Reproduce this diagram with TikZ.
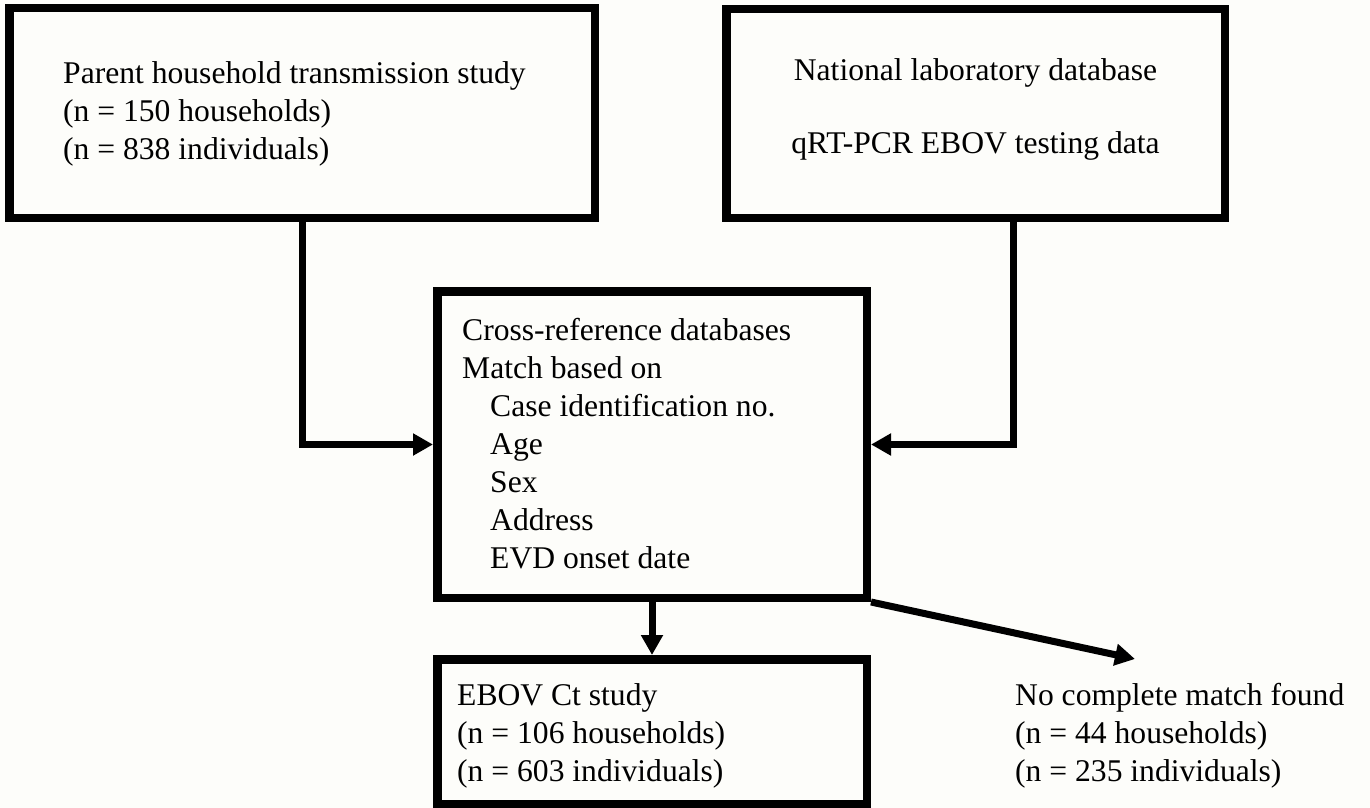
\documentclass[tikz,border=0pt]{standalone}
\usepackage{fontspec}
\setmainfont{Liberation Serif}
\usetikzlibrary{arrows.meta}
\definecolor{paper}{RGB}{253,253,250}
\tikzset{
  box/.style={draw, line width=8.5pt, inner sep=0pt},
  txt/.style={anchor=north west, inner sep=0pt, align=left, font=\fontsize{31.6}{38}\selectfont},
  arr/.style={line width=7pt, -{Triangle[length=20pt,width=21pt]}},
}
\begin{document}
\begin{tikzpicture}[x=1pt, y=-1pt]
	\fill[paper] (0,0) rectangle (1370,808);
	\useasboundingbox (0,0) rectangle (1370,808);
	\node[box, minimum width=585.5pt, minimum height=209.5pt] (parent) at (302,113) {};
	\node[box, minimum width=498.5pt, minimum height=208.5pt] (lab) at (975.5,113.5) {};
	\node[box, minimum width=429.5pt, minimum height=306.5pt] (cross) at (652,444.5) {};
	\node[box, minimum width=429.5pt, minimum height=144.5pt] (ebov) at (652,731.5) {};
	\node[txt] (parenttxt) at (63,61.4) {Parent household transmission study\\(n = 150 households)\\(n = 838 individuals)};
	\node[txt, anchor=north, align=center] (labtxt) at (975.5,58.4) {National laboratory database\\[35pt]qRT-PCR EBOV testing data};
	\node[txt] (crosstxt) at (462,318.4) {Cross-reference databases\\Match based on\\\hspace*{28pt}Case identification no.\\\hspace*{28pt}Age\\\hspace*{28pt}Sex\\\hspace*{28pt}Address\\\hspace*{28pt}EVD onset date};
	\node[txt] (ebovtxt) at (457,683.4) {EBOV Ct study\\(n = 106 households)\\(n = 603 individuals)};
	\node[txt] (nomatch) at (1015,683.4) {No complete match found\\(n = 44 households)\\(n = 235 individuals)};
	\coordinate (nomatcharr) at (1135,659);
	\draw[arr] (parent.south) |- (cross.west);
	\draw[arr] ([xshift=37.5pt]lab.south) |- (cross.east);
	\draw[arr] (cross.south) -- (ebov.north);
	\draw[arr] (cross.south east) -- (nomatcharr);
\end{tikzpicture}
\end{document}
